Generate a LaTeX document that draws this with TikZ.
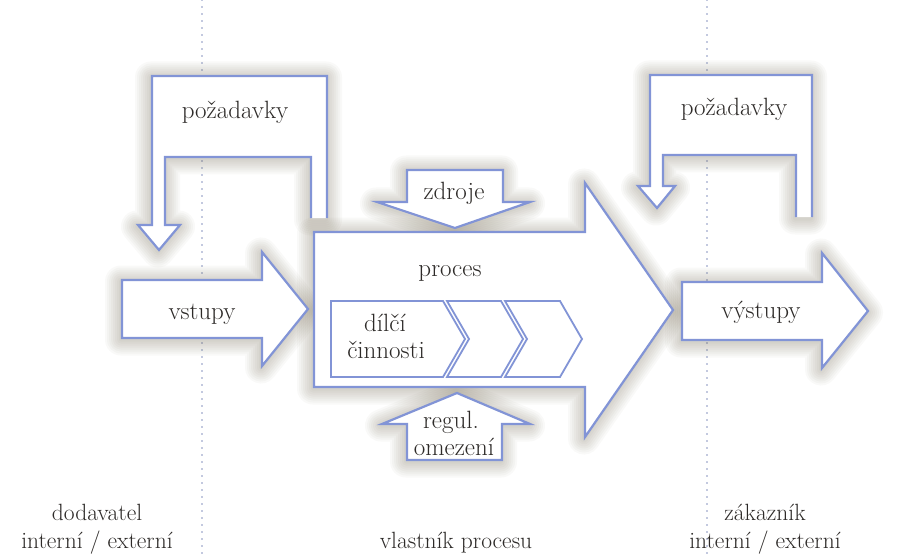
\documentclass[tikz,border=0pt]{standalone}
\begin{document}
\definecolor{edgeblue}{RGB}{130,148,214}
\definecolor{glowc}{RGB}{100,88,60}
\definecolor{dotc}{RGB}{135,146,192}
\definecolor{inkc}{RGB}{45,42,40}
\tikzset{
  lbl/.style={text=inkc, font=\fontsize{25}{28}\selectfont, inner sep=0pt, anchor=base},
  foot/.style={lbl, font=\fontsize{23.5}{28}\selectfont},
  shapefill/.style={fill=white},
  shapeedge/.style={draw=edgeblue, line width=2.2pt, line join=miter},
  chev/.style={draw=edgeblue, line width=1.8pt, fill=white, line join=miter},
  divider/.style={dotc, line width=1.7pt, line cap=round, dash pattern=on 0pt off 7pt},
}
% soft halo around a closed outline
\newcommand\halo[1]{%
  \foreach \w in {32,28,...,4}{%
    \draw[glowc, line width=\w pt, opacity=0.036, line join=round, xshift=-1pt, yshift=-1.5pt] #1;}}
\begin{tikzpicture}[x=1pt,y=-1pt]
\useasboundingbox (0,0) rectangle (904,556);
\fill[white] (0,0) rectangle (904,556);

% dotted dividers between the parties
\coordinate (d1t) at (202,0);  \coordinate (d1b) at (202,556);
\coordinate (d2t) at (707,0);  \coordinate (d2b) at (707,556);
\draw[divider] (d1t) -- (d1b);
\draw[divider] (d2t) -- (d2b);

% halos
\halo{(327,218) -- (327,76) -- (152,76) -- (152,225) -- (138,225) -- (159,250) -- (180,225) -- (165,225) -- (165,157) -- (311,157) -- (311,218) -- cycle}
\halo{(812,217) -- (812,75) -- (650,75) -- (650,186) -- (638,186) -- (657,208) -- (675,186) -- (663,186) -- (663,155) -- (796,155) -- (796,217) -- cycle}
\halo{(122,280) -- (262,280) -- (262,252) -- (308,309) -- (262,366) -- (262,338) -- (122,338) -- cycle}
\halo{(682,282) -- (822,282) -- (822,253) -- (868,311) -- (822,368) -- (822,340) -- (682,340) -- cycle}
\halo{(314,232) -- (585,232) -- (585,183) -- (673,310) -- (585,437) -- (585,387) -- (314,387) -- cycle}
\halo{(407,170) -- (503,170) -- (503,202) -- (530,202) -- (455,228) -- (377,202) -- (407,202) -- cycle}
\halo{(457,393) -- (530,424) -- (502,424) -- (502,460) -- (407,460) -- (407,424) -- (382,424) -- cycle}

% requirements bracket, supplier side
\fill[shapefill] (327,218) -- (327,76) -- (152,76) -- (152,225) -- (138,225) -- (159,250) -- (180,225) -- (165,225) -- (165,157) -- (311,157) -- (311,218) -- cycle;
\draw[shapeedge] (327,218) -- (327,76) -- (152,76) -- (152,225) -- (138,225) -- (159,250) -- (180,225) -- (165,225) -- (165,157) -- (311,157) -- (311,218);
% requirements bracket, customer side
\fill[shapefill] (812,217) -- (812,75) -- (650,75) -- (650,186) -- (638,186) -- (657,208) -- (675,186) -- (663,186) -- (663,155) -- (796,155) -- (796,217) -- cycle;
\draw[shapeedge] (812,217) -- (812,75) -- (650,75) -- (650,186) -- (638,186) -- (657,208) -- (675,186) -- (663,186) -- (663,155) -- (796,155) -- (796,217);

% inputs and outputs
\draw[shapefill, shapeedge] (122,280) -- (262,280) -- (262,252) -- (308,309) -- (262,366) -- (262,338) -- (122,338) -- cycle;
\draw[shapefill, shapeedge] (682,282) -- (822,282) -- (822,253) -- (868,311) -- (822,368) -- (822,340) -- (682,340) -- cycle;

% the process
\draw[shapefill, shapeedge] (314,232) -- (585,232) -- (585,183) -- (673,310) -- (585,437) -- (585,387) -- (314,387) -- cycle;

% resources and constraints
\draw[shapefill, shapeedge] (407,170) -- (503,170) -- (503,202) -- (530,202) -- (455,228) -- (377,202) -- (407,202) -- cycle;
\draw[shapefill, shapeedge] (457,393) -- (530,424) -- (502,424) -- (502,460) -- (407,460) -- (407,424) -- (382,424) -- cycle;

% sub-activities
\draw[chev] (331,301) -- (443,301) -- (465,339) -- (443,377) -- (331,377) -- cycle;
\draw[chev] (447,301) -- (501,301) -- (523,339) -- (501,377) -- (447,377) -- (469,339) -- cycle;
\draw[chev] (505,301) -- (560,301) -- (582,339) -- (560,377) -- (505,377) -- (527,339) -- cycle;

% labels
\node[lbl] (reqL) at (235,119) {požadavky};
\node[lbl] (reqR) at (734,116) {požadavky};
\node[lbl] (inp) at (202,319) {vstupy};
\node[lbl] (outp) at (761,318) {výstupy};
\node[lbl] (proc) at (450,276) {proces};
\node[lbl] (res) at (454,200) {zdroje};
\node[lbl] (lim1) at (451,428) {regul.};
\node[lbl] (lim2) at (454,455) {omezení};
\node[lbl] (sub1) at (385,331) {dílčí};
\node[lbl] (sub2) at (386,358) {činnosti};
\node[foot] (sup1) at (97,520) {dodavatel};
\node[foot] (sup2) at (97,548) {interní / externí};
\node[foot] (own) at (456,548) {vlastník procesu};
\node[foot] (cus1) at (765,520) {zákazník};
\node[foot] (cus2) at (765,548) {interní / externí};
\end{tikzpicture}
\end{document}
